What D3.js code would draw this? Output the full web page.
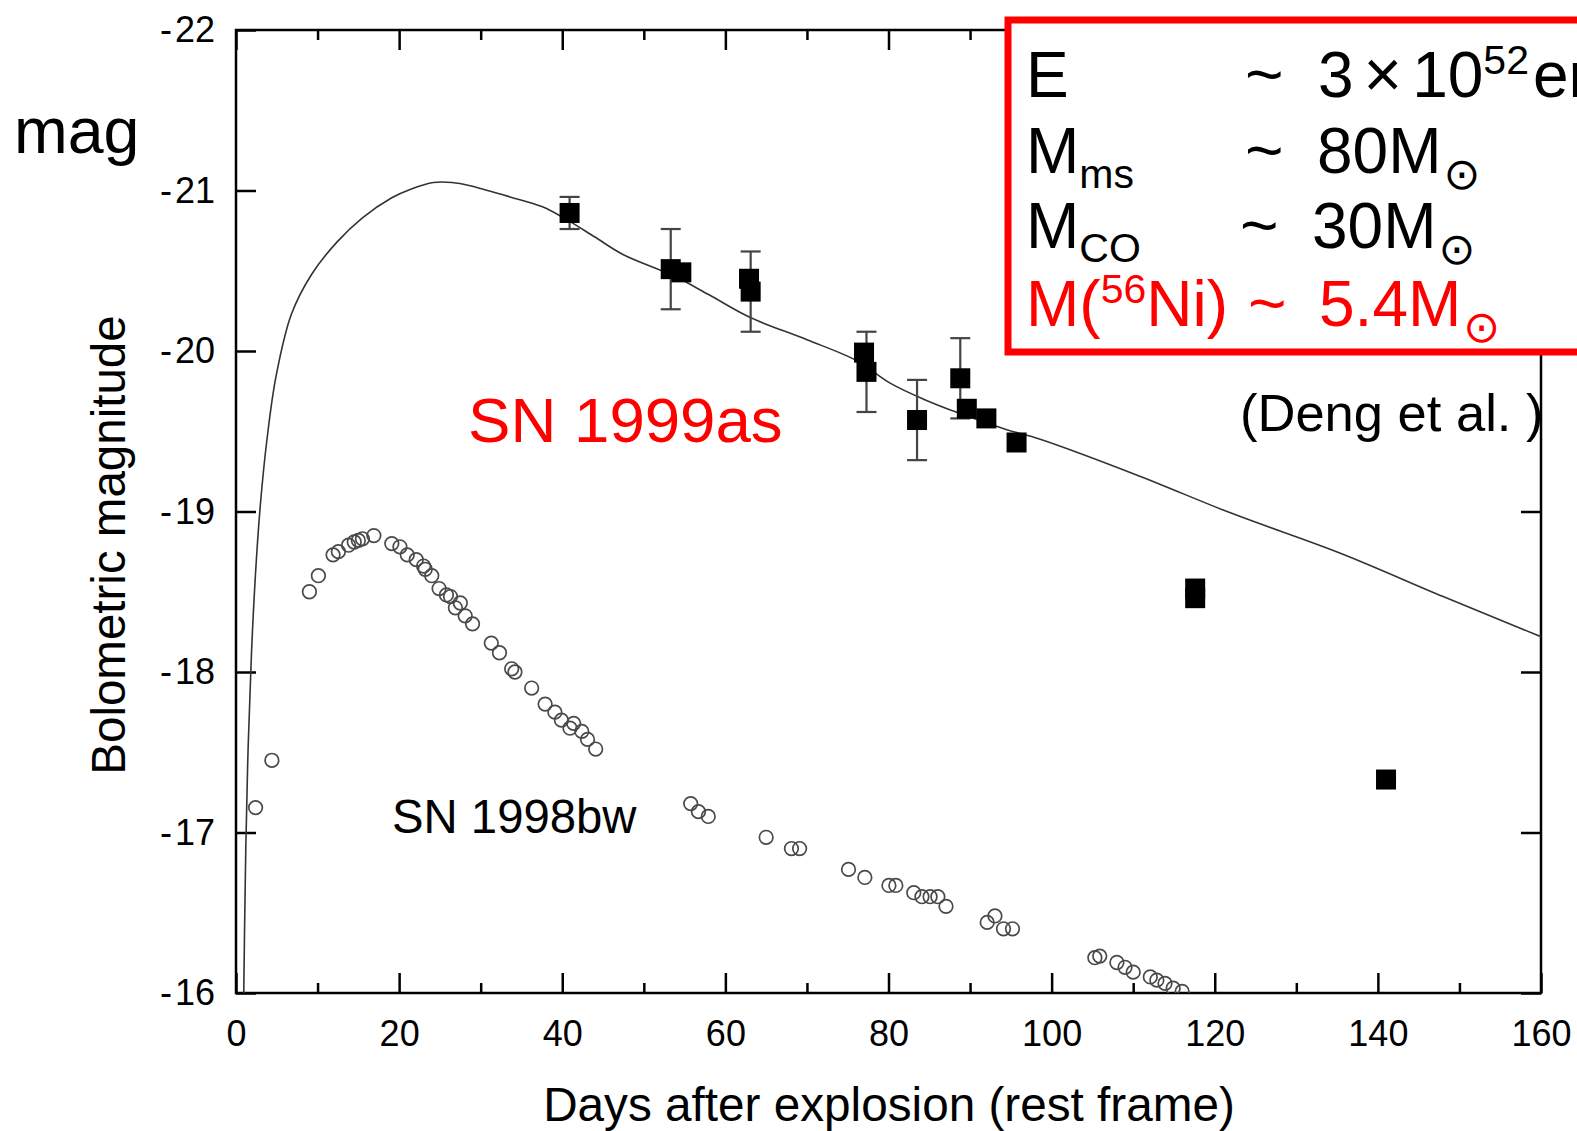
<!DOCTYPE html>
<html>
<head>
<meta charset="utf-8">
<script src="https://cdn.jsdelivr.net/npm/d3@7"></script>
<style>
  html, body { margin: 0; padding: 0; background: #fff; }
  svg { display: block; }
  text { font-family: "Liberation Sans", Arial, Helvetica, sans-serif; }
</style>
</head>
<body>
<svg id="chart" width="1577" height="1131"></svg>
<script>
// Axis ticks
const xMajorTicks = [0, 20, 40, 60, 80, 100, 120, 140, 160];
const xMinorTicks = [10, 30, 50, 70, 90, 110, 130, 150];
const yTicks = [-22, -21, -20, -19, -18, -17, -16];

// SN 1999as bolometric points: day, magnitude, error (0 = no bar drawn)
const sn99Day = [40.9, 53.3, 54.6, 62.9, 63.1, 77.0, 77.3, 83.5, 88.8, 89.6, 92.0, 95.7, 117.6, 117.6, 141.0];
const sn99Mag = [-20.86, -20.51, -20.49, -20.45, -20.37, -19.99, -19.87, -19.57, -19.83, -19.64, -19.58, -19.43, -18.52, -18.46, -17.33];
const sn99Err = [0.10, 0.25, 0, 0, 0.25, 0, 0.25, 0.25, 0.25, 0, 0, 0, 0, 0, 0];

// SN 1998bw bolometric light curve
const sn98Day = [2.4, 4.4, 9.0, 10.1, 11.9, 12.55, 13.8, 14.5, 15.0, 15.5, 16.9, 19.1, 20.1, 21.0, 22.1, 23.0, 23.2, 24.0, 24.9, 25.8, 26.3, 26.9, 27.5, 28.1, 29.0, 31.3, 32.3, 33.8, 34.2, 36.25, 37.9, 39.1, 39.9, 40.95, 41.4, 42.4, 43.1, 44.1,
  55.75, 56.7, 57.9, 65.0, 68.1, 69.1, 75.1, 77.1, 80.05, 80.9, 83.1, 84.1, 85.1, 86.05, 87.05, 92.1, 93.05, 94.1, 95.2,
  105.3, 105.9, 108.0, 109.0, 110.0, 112.1, 112.9, 113.9, 114.9, 116.0];
const sn98Mag = [-17.155, -17.45, -18.50, -18.60, -18.73, -18.75, -18.79, -18.81, -18.82, -18.83, -18.85, -18.80, -18.78, -18.73, -18.70, -18.66, -18.64, -18.60, -18.52, -18.48, -18.47, -18.40, -18.43, -18.35, -18.30, -18.18, -18.12, -18.02, -18.00, -17.90, -17.80, -17.75, -17.70, -17.65, -17.68, -17.63, -17.58, -17.52,
  -17.18, -17.13, -17.10, -16.97, -16.90, -16.90, -16.77, -16.72, -16.67, -16.67, -16.625, -16.60, -16.60, -16.60, -16.54, -16.44, -16.48, -16.40, -16.40,
  -16.22, -16.23, -16.19, -16.16, -16.13, -16.10, -16.08, -16.06, -16.03, -16.01];

// Model light curve
const modelDay = [0.9, 1.2, 1.5, 1.9, 2.4, 3.0, 3.8, 4.9, 6.8, 9.3, 12.4, 15.5, 19.1, 21.5, 24.2, 26.5, 28.7, 33.6, 37.5, 40.5, 44.0, 47.5, 53.6, 58.0, 63.0, 70.0, 76.1, 80.2, 84.3, 88.8, 94.5, 98.6, 110.8, 122.0, 135.4, 148.0, 160.0];
const modelMag = [-15.8, -16.9, -17.55, -18.12, -18.62, -19.05, -19.45, -19.84, -20.23, -20.48, -20.68, -20.83, -20.955, -21.01, -21.05, -21.05, -21.03, -20.96, -20.90, -20.82, -20.71, -20.60, -20.47, -20.35, -20.21, -20.07, -19.94, -19.80, -19.70, -19.61, -19.51, -19.45, -19.22, -18.99, -18.74, -18.47, -18.22];

const svg = d3.select("#chart");
const plotL = 236, plotR = 1541, plotT = 30, plotB = 993;

const x = d3.scaleLinear().domain([0, 160]).range([plotL, plotR]);
const y = d3.scaleLinear().domain([-22, -16]).range([plotT, plotB]);

svg.append("defs").append("clipPath").attr("id", "plotClip")
  .append("rect").attr("x", plotL).attr("y", plotT)
  .attr("width", plotR - plotL).attr("height", plotB - plotT);

// magnitudes are written with a short hyphen and a hair gap
const fmtMag = d => (d < 0 ? "-\u200A" : "") + Math.abs(d);

function styleAxis(g) {
  g.select(".domain").remove();
  g.selectAll(".tick line").attr("stroke", "#000").attr("stroke-width", 2.5);
  g.selectAll(".tick text").attr("fill", "#000")
    .style("font-family", '"Liberation Sans", Arial, sans-serif')
    .style("font-size", "36px");
}

// bottom axis
svg.append("g").attr("transform", `translate(0,${plotB})`)
  .call(d3.axisBottom(x).tickValues(xMajorTicks).tickSize(-20).tickPadding(27).tickFormat(d3.format("d")))
  .call(styleAxis);
svg.append("g").attr("transform", `translate(0,${plotB})`)
  .call(d3.axisBottom(x).tickValues(xMinorTicks).tickSize(-10).tickFormat(""))
  .call(styleAxis);
// top axis
svg.append("g").attr("transform", `translate(0,${plotT})`)
  .call(d3.axisTop(x).tickValues(xMajorTicks).tickSize(-20).tickFormat(""))
  .call(styleAxis);
svg.append("g").attr("transform", `translate(0,${plotT})`)
  .call(d3.axisTop(x).tickValues(xMinorTicks).tickSize(-10).tickFormat(""))
  .call(styleAxis);
// left axis
svg.append("g").attr("transform", `translate(${plotL},0)`)
  .call(d3.axisLeft(y).tickValues(yTicks).tickSize(-20).tickPadding(21).tickFormat(fmtMag))
  .call(styleAxis);
// right axis
svg.append("g").attr("transform", `translate(${plotR},0)`)
  .call(d3.axisRight(y).tickValues(yTicks).tickSize(-20).tickFormat(""))
  .call(styleAxis);

// frame
svg.append("rect").attr("x", plotL).attr("y", plotT)
  .attr("width", plotR - plotL).attr("height", plotB - plotT)
  .attr("fill", "none").attr("stroke", "#000").attr("stroke-width", 2.5);

const plot = svg.append("g").attr("clip-path", "url(#plotClip)");

// model curve
const model = modelDay.map((d, i) => [d, modelMag[i]]);
plot.append("path")
  .datum(model)
  .attr("fill", "none").attr("stroke", "#333").attr("stroke-width", 1.6)
  .attr("d", d3.line().x(d => x(d[0])).y(d => y(d[1])).curve(d3.curveCatmullRom.alpha(0.5)));

// SN 1998bw open circles
const sn98 = sn98Day.map((d, i) => [d, sn98Mag[i]]);
plot.append("g").selectAll("circle").data(sn98).join("circle")
  .attr("cx", d => x(d[0])).attr("cy", d => y(d[1])).attr("r", 6.8)
  .attr("fill", "none").attr("stroke", "#4a4a4a").attr("stroke-width", 1.7);

// SN 1999as error bars and squares
const sn99 = sn99Day.map((d, i) => ({ d, m: sn99Mag[i], e: sn99Err[i] }));
const bars = plot.append("g").attr("stroke", "#444").attr("stroke-width", 2.2);
sn99.filter(p => p.e > 0).forEach(p => {
  const cx = x(p.d);
  bars.append("line").attr("x1", cx).attr("x2", cx).attr("y1", y(p.m - p.e)).attr("y2", y(p.m + p.e));
  bars.append("line").attr("x1", cx - 10).attr("x2", cx + 10).attr("y1", y(p.m - p.e)).attr("y2", y(p.m - p.e));
  bars.append("line").attr("x1", cx - 10).attr("x2", cx + 10).attr("y1", y(p.m + p.e)).attr("y2", y(p.m + p.e));
});
const sq = 20;
plot.append("g").selectAll("rect").data(sn99).join("rect")
  .attr("x", p => x(p.d) - sq / 2).attr("y", p => y(p.m) - sq / 2)
  .attr("width", sq).attr("height", sq).attr("fill", "#000");

// axis titles
svg.append("text").attr("x", 889).attr("y", 1121)
  .attr("text-anchor", "middle").attr("font-size", 47.7).attr("fill", "#000")
  .text("Days after explosion (rest frame)");
svg.append("text")
  .attr("transform", "translate(125,545) rotate(-90)")
  .attr("text-anchor", "middle").attr("font-size", 47.5).attr("fill", "#000")
  .text("Bolometric magnitude");
svg.append("text").attr("x", 14).attr("y", 153).attr("font-size", 64.5).attr("fill", "#000").text("mag");

// curve labels
svg.append("text").attr("x", 468).attr("y", 442).attr("font-size", 63.6).attr("fill", "#ff0000").text("SN 1999as");
svg.append("text").attr("x", 392).attr("y", 833).attr("font-size", 47.3).attr("fill", "#000").text("SN 1998bw");
svg.append("text").attr("x", 1240).attr("y", 431).attr("font-size", 52.5).attr("fill", "#000").text("(Deng et al. )");

// parameter box
svg.append("rect").attr("x", 1008).attr("y", 20).attr("width", 620).attr("height", 332)
  .attr("fill", "#fff").attr("stroke", "#ff0000").attr("stroke-width", 7);

const fs = 64;
const box = svg.append("g").attr("font-size", fs);
function row(yb, color, labelParts, tildeX, valueX, valueParts) {
  const g = box.append("g").attr("fill", color);
  const l = g.append("text").attr("x", 1026).attr("y", yb);
  labelParts.forEach(p => l.append("tspan").attr("font-size", p.s || fs).attr("dy", p.dy || 0).text(p.t));
  g.append("text").attr("x", tildeX).attr("y", yb).attr("font-size", 66).text("~");
  const v = g.append("text").attr("x", valueX).attr("y", yb);
  valueParts.forEach(p => v.append("tspan").attr("font-size", p.s || fs).attr("dy", p.dy || 0)
    .attr("dx", p.dx || 0).style("font-family", p.f || null).text(p.t));
}
const sun = [{ t: "⊙", s: 44, dy: 16, dx: 2, f: '"DejaVu Sans", sans-serif' }];
row(97, "#000", [{ t: "E" }], 1245, 1318,
  [{ t: "3" }, { t: "×", s: 66, dx: 10 }, { t: "10", dx: 10 }, { t: "52", s: 41, dy: -23 }, { t: "erg", dy: 23, dx: 4 }]);
row(173, "#000", [{ t: "M" }, { t: "ms", s: 41, dy: 15 }], 1245, 1317, [{ t: "80M" }].concat(sun));
row(248, "#000", [{ t: "M" }, { t: "CO", s: 41, dy: 14 }], 1240, 1312, [{ t: "30M" }].concat(sun));
row(326, "#ff0000", [{ t: "M(" }, { t: "56", s: 41, dy: -23 }, { t: "Ni)", dy: 23 }], 1248, 1319, [{ t: "5.4M" }].concat(sun));
</script>
</body>
</html>
